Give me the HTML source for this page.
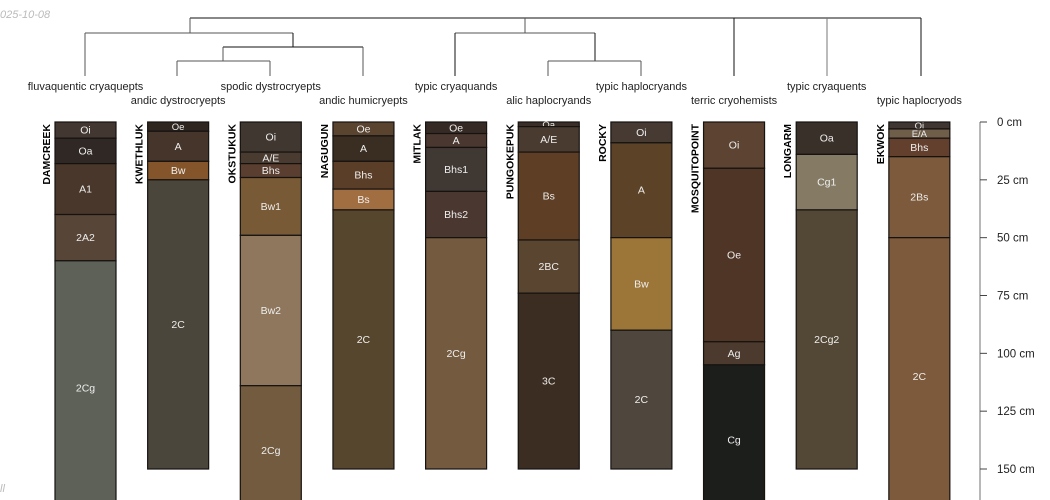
<!DOCTYPE html>
<html><head><meta charset="utf-8"><style>
html,body{margin:0;padding:0;background:#fff;width:1050px;height:500px;overflow:hidden}
svg{display:block;font-family:"Liberation Sans",sans-serif}
</style></head><body>
<svg id="chart" width="1050" height="500" viewBox="0 0 1050 500"></svg>
<script>
const profileNames=["DAMCREEK","KWETHLUK","OKSTUKUK","NAGUGUN","MITLAK","PUNGOKEPUK","ROCKY","MOSQUITOPOINT","LONGARM","EKWOK"];
const taxonNames=["fluvaquentic cryaquepts","andic dystrocryepts","spodic dystrocryepts","andic humicryepts","typic cryaquands","alic haplocryands","typic haplocryands","terric cryohemists","typic cryaquents","typic haplocryods"];
const horizonNames=[["Oi","Oa","A1","2A2","2Cg"],["Oe","A","Bw","2C"],["Oi","A/E","Bhs","Bw1","Bw2","2Cg"],["Oe","A","Bhs","Bs","2C"],["Oe","A","Bhs1","Bhs2","2Cg"],["Oa","A/E","Bs","2BC","3C"],["Oi","A","Bw","2C"],["Oi","Oe","Ag","Cg"],["Oa","Cg1","2Cg2"],["Oi","E/A","Bhs","2Bs","2C"]];
const horizonBottoms=[[7,18,40,60,170],[4,17,25,150],[13,18,24,49,114,170],[6,17,29,38,150],[5,11,30,50,150],[2,13,51,74,150],[9,50,90,150],[20,95,105,170],[14,38,150],[3,7,15,50,170]];
const horizonColors=[["#433831","#302824","#48372a","#574537","#5e6157"],["#2f2620","#45352a","#84552b","#4b463b"],["#413731","#4a3b31","#5a3f31","#785a36","#8e775c","#735b40"],["#5a4430","#3a2d22","#5a3e28","#a16e42","#57462e"],["#362b24","#4a3830","#403833","#4a3830","#745b40"],["#3a2f28","#4a3b30","#5e3f26","#5a4530","#3b2d21"],["#463a33","#5c4328","#9c7538","#4f463d"],["#5c4332","#4e3526","#4b3a2d","#1c1e1c"],["#3a302a","#857b65","#534835"],["#3f3631","#6e5e4a","#633f2e","#7c5a3b","#7c5a3b"]];
const depthTicks=[0,25,50,75,100,125,150];

const NS="http://www.w3.org/2000/svg";
const svg=document.getElementById('chart');
function mk(tag,attrs,parent){const e=document.createElementNS(NS,tag);for(const k in attrs)e.setAttribute(k,attrs[k]);(parent||svg).appendChild(e);return e;}
const yTop=122, pxPerCm=(469-122)/150;
function yScale(d){return yTop+d*pxPerCm;}
function xLeft(i){return 55+i*92.65;}
const colW=61;

let t=mk('text',{x:0,y:18,'font-size':11,'font-style':'italic',fill:'#bbb'});


t.textContent='025-10-08';
t=mk('text',{x:0,y:492,'font-size':11,'font-style':'italic',fill:'#bbb'});


t.textContent='ll';

const dendroSegs=[[190,18,921,18,'#111'],[190,18,190,33,'#555'],[85,33,293,33,'#555'],[85,33,85,76,'#555'],[293,33,293,47,'#111'],[223,47,363,47,'#111'],[223,47,223,61,'#555'],[177,61,270,61,'#555'],[177,61,177,76,'#555'],[270,61,270,76,'#555'],[363,47,363,76,'#555'],[525,18,525,33,'#555'],[455,33,595,33,'#555'],[455,33,455,76,'#111'],[595,33,595,61,'#111'],[548,61,641,61,'#555'],[548,61,548,76,'#555'],[641,61,641,76,'#555'],[734,18,734,76,'#111'],[827,18,827,76,'#777'],[921,18,921,76,'#111']];
const dg=mk('g',{});


dendroSegs.forEach(s=>{const l=mk('line',{x1:s[0],y1:s[1],x2:s[2],y2:s[3],stroke:s[4],'stroke-width':1},dg);

});

profileNames.forEach((name,i)=>{
  const x=xLeft(i), cx=x+colW/2;
  const g=mk('g',{});
  
  
  const lab=mk('text',{x:cx,y:(i%2==0)?90:104,'font-size':11,fill:'#222','text-anchor':'middle'},g);
  
  
  lab.textContent=taxonNames[i];
  let top=0;
  horizonNames[i].forEach((h,j)=>{
    const bot=horizonBottoms[i][j];
    const y0=yScale(top), y1=yScale(bot);
    const r=mk('rect',{x:x,y:y0,width:colW,height:y1-y0,fill:horizonColors[i][j],stroke:'#151210','stroke-width':1.2},g);
    
    
    const fs=(y1-y0)<10?9.5:10.5;
    const ht=mk('text',{x:cx,y:(y0+y1)/2+3.5,'font-size':fs,fill:'#eee','text-anchor':'middle'},g);
    
    
    ht.textContent=h;
    top=bot;
  });
  const pn=mk('text',{x:0,y:0,'font-size':10.5,'font-weight':'bold',fill:'#000','text-anchor':'end',transform:`translate(${x-5},${yTop+2}) rotate(-90)`},g);
  
  
  pn.textContent=name;
});

const ag=mk('g',{});


const al=mk('line',{x1:980,y1:yScale(0),x2:980,y2:500,stroke:'#888','stroke-width':1.2},ag);


depthTicks.forEach(d=>{
  const tk=mk('line',{x1:980,y1:yScale(d),x2:987,y2:yScale(d),stroke:'#444','stroke-width':1},ag);
  
  
  const tl=mk('text',{x:997,y:yScale(d)+4,'font-size':11.5,fill:'#222'},ag);
  
  
  tl.textContent=d+' cm';
});
</script>
</body></html>
